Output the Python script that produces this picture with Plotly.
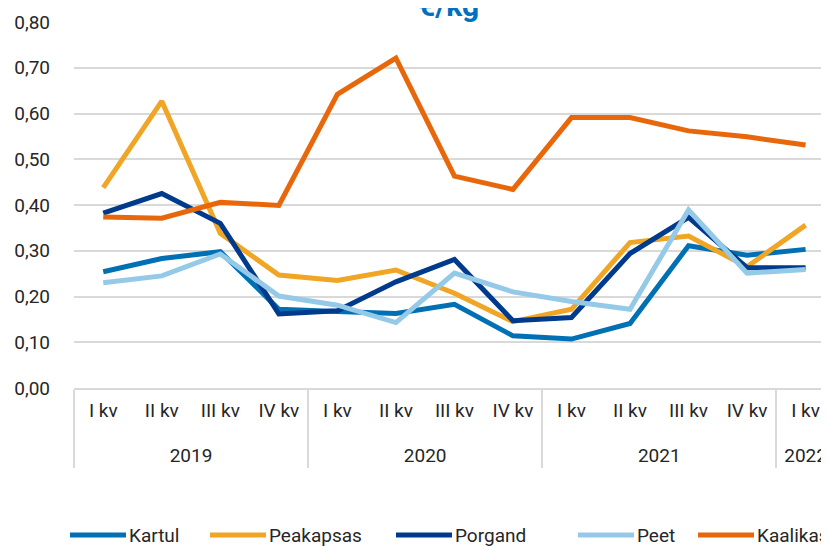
import plotly.graph_objects as go

years = ["2019"] * 4 + ["2020"] * 4 + ["2021"] * 4 + ["2022"]
quarters = ["I kv", "II kv", "III kv", "IV kv"] * 3 + ["I kv"]

kartul = [0.254, 0.283, 0.298, 0.172, 0.167, 0.163, 0.183, 0.114, 0.107, 0.141, 0.311, 0.290, 0.303]
peakapsas = [0.438, 0.627, 0.338, 0.247, 0.235, 0.258, 0.207, 0.145, 0.172, 0.318, 0.332, 0.265, 0.356]
porgand = [0.382, 0.425, 0.360, 0.162, 0.169, 0.232, 0.281, 0.147, 0.154, 0.294, 0.373, 0.263, 0.263]
peet = [0.230, 0.245, 0.293, 0.201, 0.181, 0.143, 0.251, 0.210, 0.189, 0.172, 0.389, 0.251, 0.259]
kaalikas = [0.374, 0.371, 0.406, 0.399, 0.642, 0.721, 0.463, 0.434, 0.591, 0.591, 0.562, 0.549, 0.531]

series = [
    ("Kartul", kartul, "#0070B5"),
    ("Peakapsas", peakapsas, "#F0A524"),
    ("Porgand", porgand, "#003A8C"),
    ("Peet", peet, "#94C9E8"),
    ("Kaalikas", kaalikas, "#E8670A"),
]

FONT = "Roboto, sans-serif"
OFF = 8  # page body margin offset
W, H = 829 - OFF, 546 - OFF
ML, MR, MT, MB = 74 - OFF, 0, 22 - OFF, 546 - 388
PW, PH = W - ML - MR, H - MT - MB


def px_x(p):
    p -= OFF
    return (p - ML) / PW


def px_y(p):
    p -= OFF
    return (H - MB - p) / PH


fig = go.Figure()
for name, vals, color in series:
    fig.add_trace(go.Scatter(
        x=[["<br>" + y for y in years], quarters], y=vals, name=name, mode="lines",
        line=dict(color=color, width=5), showlegend=False,
    ))

# legend with long line symbols like the original
legend_starts = [70, 210, 396, 578, 698]
shapes = []
annotations = []
for (name, _, color), x0 in zip(series, legend_starts):
    shapes.append(dict(type="line", xref="paper", yref="paper",
                       x0=px_x(x0), x1=px_x(x0 + 56), y0=px_y(535), y1=px_y(535),
                       line=dict(color=color, width=5)))
    annotations.append(dict(text=name, xref="paper", yref="paper",
                            x=px_x(x0 + 57), y=px_y(535), xanchor="left", yanchor="middle",
                            showarrow=False, font=dict(family=FONT, size=19, color="#262626")))

annotations.append(dict(
    text="<b>€/kg</b>", xref="paper", yref="paper", x=px_x(448), y=px_y(6),
    xanchor="center", yanchor="middle", showarrow=False,
    font=dict(family=FONT, size=30, color="#0070C0"),
))

fig.update_layout(
    width=W, height=H,
    margin=dict(l=ML, r=MR, t=MT, b=MB, autoexpand=False),
    paper_bgcolor="white", plot_bgcolor="white",
    separators=", ",
    font=dict(family=FONT, size=19, color="#262626"),
    showlegend=False,
    shapes=shapes,
    annotations=annotations,
)
fig.update_yaxes(
    range=[0, 0.8], dtick=0.1, tickformat=".2f",
    showgrid=True, gridcolor="#D9D9D9", gridwidth=1.5,
    zeroline=False, showline=False, ticks="", ticklabelstandoff=23,
    tickfont=dict(size=19),
)
fig.update_xaxes(
    type="multicategory", range=[-0.5, 12.4],
    showgrid=False, showline=True, linecolor="#D9D9D9", linewidth=1.5,
    ticks="outside", ticklen=8, tickcolor="rgba(0,0,0,0)", ticklabelstandoff=4,
    showdividers=True, dividercolor="#D9D9D9", dividerwidth=1.5,
    tickfont=dict(size=19),
)

fig.write_html("out.html")
